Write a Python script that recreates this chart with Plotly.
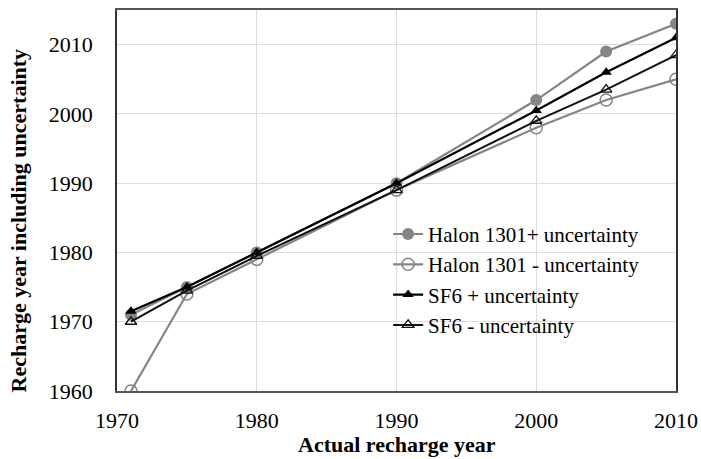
import plotly.graph_objects as go

# Actual recharge years (x) and recharge-year estimates including uncertainty (y)
actual_year = [1971, 1975, 1980, 1990, 2000, 2005, 2010]
halon_plus = [1971, 1975, 1980, 1990, 2002, 2009, 2013]
halon_minus = [1960, 1974, 1979, 1989, 1998, 2002, 2005]
sf6_plus = [1971.5, 1975, 1980, 1990, 2000.5, 2006, 2011]
sf6_minus = [1970, 1974.5, 1979.5, 1989, 1999, 2003.5, 2008.5]

x_ticks = [1970, 1980, 1990, 2000, 2010]
y_ticks = [1960, 1970, 1980, 1990, 2000, 2010]

GRAY = "#858585"
BLACK = "#000000"
FONT = "Liberation Serif"

fig = go.Figure()
fig.add_trace(go.Scatter(
    x=actual_year, y=halon_plus, name="Halon 1301+ uncertainty", mode="lines+markers",
    line=dict(color=GRAY, width=2.2),
    marker=dict(symbol="circle", size=12, color=GRAY)))
fig.add_trace(go.Scatter(
    x=actual_year, y=halon_minus, name="Halon 1301 - uncertainty", mode="lines+markers",
    line=dict(color=GRAY, width=2.2),
    marker=dict(symbol="circle-open", size=12, color=GRAY, line=dict(width=1.5))))
fig.add_trace(go.Scatter(
    x=actual_year, y=sf6_plus, name="SF6 + uncertainty", mode="lines+markers",
    line=dict(color=BLACK, width=2.2),
    marker=dict(symbol="triangle-up", size=10, color=BLACK)))
fig.add_trace(go.Scatter(
    x=actual_year, y=sf6_minus, name="SF6 - uncertainty", mode="lines+markers",
    line=dict(color="#111111", width=2),
    marker=dict(symbol="triangle-up-open", size=10, color="#111111", line=dict(width=1.3))))

fig.update_layout(
    width=701, height=459,
    margin=dict(l=117, r=25, t=10, b=68),
    paper_bgcolor="white", plot_bgcolor="white",
    font=dict(family=FONT, size=22, color="black"),
    showlegend=True,
    legend=dict(x=0.485, y=0.465, xanchor="left", yanchor="top",
                bgcolor="rgba(255,255,255,0)", font=dict(family=FONT, size=21),
                itemwidth=30, tracegroupgap=0),
    xaxis=dict(range=[1970, 2010], tickvals=x_ticks, showgrid=True, gridcolor="#dddddd",
               gridwidth=1, zeroline=False, showline=True, linecolor="#555555", linewidth=1.5,
               mirror=True, ticks="", ticklabelstandoff=9, automargin=False,
               tickfont=dict(family=FONT, size=22)),
    yaxis=dict(range=[1960, 2015], tickvals=y_ticks, showgrid=True, gridcolor="#dddddd",
               gridwidth=1, zeroline=False, showline=True, linecolor="#333333", linewidth=1.5,
               mirror=True, ticks="", ticklabelstandoff=18, automargin=False,
               tickfont=dict(family=FONT, size=22)),
    annotations=[
        dict(text="<b>Actual recharge year</b>", xref="paper", yref="paper",
             x=0.5, y=0, xanchor="center", yanchor="middle", yshift=-53,
             showarrow=False, font=dict(family=FONT, size=22)),
        dict(text="<b>Recharge year including uncertainty</b>", xref="paper", yref="paper",
             x=0, y=0.5, xanchor="center", yanchor="middle", xshift=-99, yshift=-20,
             textangle=-90, showarrow=False, font=dict(family=FONT, size=22)),
    ],
)

fig.write_html("out.html")
